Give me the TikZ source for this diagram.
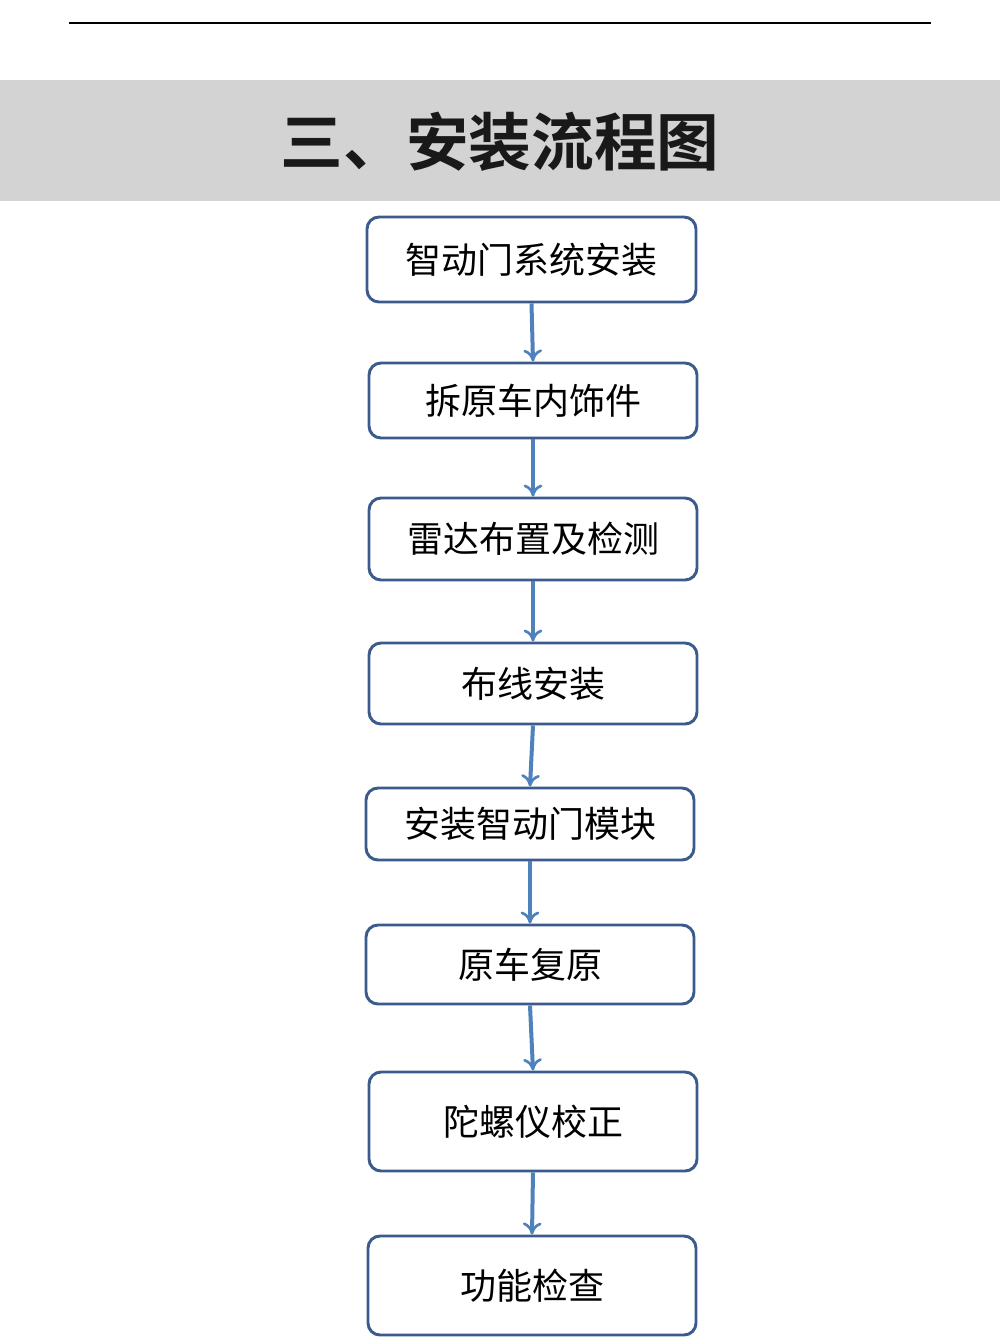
\documentclass[tikz,border=0pt]{standalone}
\usepackage{fontspec}
\newfontfamily\cjk{Noto Sans CJK SC}
\newfontfamily\cjkb{Noto Sans CJK SC Bold}
\usetikzlibrary{arrows.meta}
\definecolor{bord}{HTML}{3B5B8D}
\definecolor{arr}{HTML}{4F81BD}
\definecolor{band}{HTML}{D3D3D3}
\tikzset{
 stepbox/.style={draw=bord,line width=2.2pt,rounded corners=9pt,fill=white,inner sep=0pt,font=\cjk\fontsize{27}{30}\selectfont},
 flow/.style={draw=arr,line width=3pt,-{To[length=9pt,width=14pt,line width=2pt]}}
}
\begin{document}
\begin{tikzpicture}[x=0.75pt,y=-0.75pt]
\useasboundingbox (0,0) rectangle (1000,1339);
\draw[line width=0.8pt] (69,23) -- (931,23);
\fill[band] (0,80) rectangle (1000,201);
\node[font=\cjkb\fontsize{47}{50}\selectfont,text=black!90] (title) at (500,142) {三、安装流程图};
\def\bx#1#2#3#4#5#6{\node[stepbox,minimum width={(#4-#2)*0.75pt},minimum height={(#5-#3)*0.75pt}] (#1) at ({(#2+#4)/2},{(#3+#5)/2}) {#6};}
\bx{b1}{367}{217}{696}{302}{智动门系统安装}
\bx{b2}{369}{363}{697}{438}{拆原车内饰件}
\bx{b3}{369}{498}{697}{580}{雷达布置及检测}
\bx{b4}{369}{643}{697}{724}{布线安装}
\bx{b5}{366}{788}{694}{860}{安装智动门模块}
\bx{b6}{366}{925}{694}{1004}{原车复原}
\bx{b7}{369}{1072}{697}{1171}{陀螺仪校正}
\bx{b8}{368}{1236}{696}{1335}{功能检查}
\foreach \a/\b in {b1/b2,b2/b3,b3/b4,b4/b5,b5/b6,b6/b7,b7/b8}
  \draw[flow] (\a.south) -- (\b.north);
\end{tikzpicture}
\end{document}
